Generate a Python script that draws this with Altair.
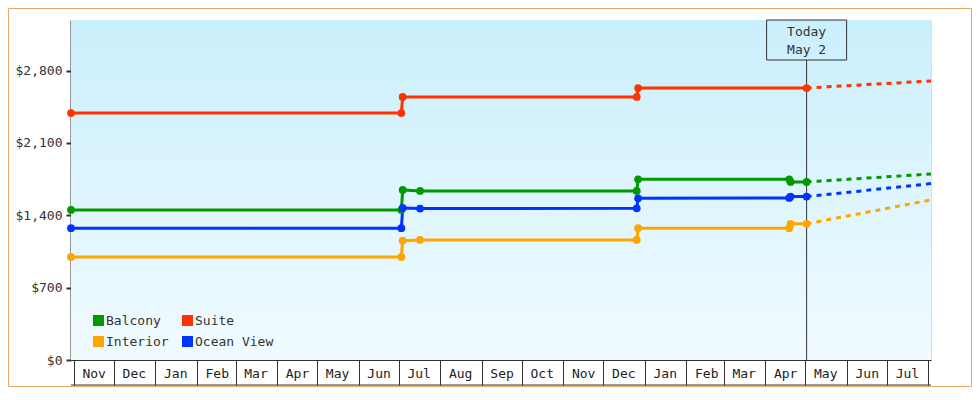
import altair as alt
import pandas as pd

# ---------------- data ----------------
series_names = ["Balcony", "Suite", "Interior", "Ocean View"]
series_colors = ["#009900", "#ff3300", "#ffa500", "#0033ff"]

dates_suite = ["2023-10-30", "2024-07-03", "2024-07-04", "2024-12-26", "2024-12-27", "2025-05-02"]
prices_suite = [2390, 2390, 2545, 2545, 2632, 2632]

dates_other = ["2023-10-30", "2024-07-03", "2024-07-04", "2024-07-17", "2024-12-26",
               "2024-12-27", "2025-04-19", "2025-04-20", "2025-05-02"]
prices_balcony = [1452, 1452, 1646, 1636, 1636, 1749, 1749, 1723, 1723]
prices_ocean = [1275, 1275, 1471, 1465, 1468, 1565, 1568, 1581, 1581]
prices_interior = [997, 997, 1155, 1162, 1162, 1275, 1275, 1318, 1318]

forecast_dates = ["2025-05-02", "2025-08-03"]
forecast_suite = [2632, 2700]
forecast_balcony = [1723, 1800]
forecast_ocean = [1581, 1707]
forecast_interior = [1318, 1549]

today_date = "2025-05-02"
today_label = ["Today", "May 2"]

y_ticks = [0, 700, 1400, 2100, 2800]
y_max = 3290
x_start = (2023, 10, 30)
x_end = (2025, 8, 3)
tick_months = [(2023, m) for m in (11, 12)] + [(2024, m) for m in range(1, 13)] + [(2025, m) for m in range(1, 9)]

# ---------------- tables ----------------
def long(name, dates, prices):
    return pd.DataFrame({"series": name, "date": dates, "price": prices})

actual = pd.concat([
    long("Suite", dates_suite, prices_suite),
    long("Balcony", dates_other, prices_balcony),
    long("Ocean View", dates_other, prices_ocean),
    long("Interior", dates_other, prices_interior),
], ignore_index=True)

forecast = pd.concat([
    long("Suite", forecast_dates, forecast_suite),
    long("Balcony", forecast_dates, forecast_balcony),
    long("Ocean View", forecast_dates, forecast_ocean),
    long("Interior", forecast_dates, forecast_interior),
], ignore_index=True)

today_df = pd.DataFrame({"date": [today_date]})
span_df = pd.DataFrame({"date": [dates_suite[0]], "date2": [forecast_dates[-1]]})

FONT = "DejaVu Sans Mono"
INK = "#333333"
W, H = 860, 340

x_scale = alt.Scale(
    type="utc",
    domain=[alt.DateTime(year=x_start[0], month=x_start[1], date=x_start[2], utc=True),
            alt.DateTime(year=x_end[0], month=x_end[1], date=x_end[2], utc=True)],
)
x_axis = alt.Axis(
    title=None,
    values=[alt.DateTime(year=y_, month=m, date=1, utc=True) for (y_, m) in tick_months],
    labelExpr="datum.value > utc(2025, 6, 15) ? '' : utcFormat(datum.value, '%b')",
    grid=False,
    tickSize=25, tickWidth=1, tickColor=INK,
    domainColor=INK, domainWidth=1,
    labelOffset=20, labelAlign="center", labelBaseline="middle", labelPadding=-12,
    labelFont=FONT, labelFontSize=13, labelColor="#222222",
    labelOverlap=False, labelFlush=False,
)
x_enc = alt.X("date:T", scale=x_scale, axis=x_axis)

y_scale = alt.Scale(domain=[0, y_max], nice=False, zero=True)
y_axis = alt.Axis(
    title=None, values=y_ticks, format="$,.0f", grid=False,
    tickSize=5, tickWidth=2, tickColor=INK,
    domainColor=INK, domainWidth=2,
    labelPadding=4, labelFont=FONT, labelFontSize=13, labelColor=INK,
)
y_enc = alt.Y("price:Q", scale=y_scale, axis=y_axis)

color_enc = alt.Color(
    "series:N",
    scale=alt.Scale(domain=series_names, range=series_colors),
    legend=alt.Legend(
        title=None, orient="none", legendX=21, legendY=294, columns=2,
        direction="horizontal",
        columnPadding=4, rowPadding=-9, padding=0,
        symbolType="square", symbolSize=25, symbolStrokeWidth=6, symbolOpacity=1,
        labelFont=FONT, labelFontSize=13, labelColor=INK, labelOffset=1,
    ),
)

bg = alt.Chart(pd.DataFrame({"a": [0]})).mark_rect(
    fill=alt.Gradient(
        gradient="linear",
        stops=[alt.GradientStop(offset=0, color="#caeffc"),
               alt.GradientStop(offset=1, color="#f1fbff")],
        x1=0, x2=0, y1=0, y2=1,
    )
).encode(x=alt.value(0), x2=alt.value(W), y=alt.value(0), y2=alt.value(H))

today_rule = alt.Chart(today_df).mark_rule(color=INK, strokeWidth=1).encode(
    x=x_enc, y=alt.value(40), y2=alt.value(H)
)

solid = alt.Chart(actual).mark_line(strokeWidth=3).encode(
    x=x_enc, y=y_enc, color=color_enc, detail="series:N"
)
dashed = alt.Chart(forecast).mark_line(strokeWidth=3, strokeDash=[5, 5]).encode(
    x=x_enc, y=y_enc, color=color_enc, detail="series:N"
)
points = alt.Chart(actual).mark_point(filled=True, size=60, opacity=1, shape="circle").encode(
    x=x_enc, y=y_enc, color=color_enc
)

box = alt.Chart(today_df).mark_point(
    shape="M-1,-0.5L1,-0.5L1,0.5L-1,0.5Z", size=6400, filled=False,
    stroke=INK, strokeWidth=1, opacity=1,
).encode(x=x_enc, y=alt.value(20))

box_text = alt.Chart(today_df).mark_text(
    font=FONT, fontSize=13, color=INK, baseline="middle", align="center", lineHeight=18,
).encode(x=x_enc, y=alt.value(12), text=alt.value(today_label))

bottom_line = alt.Chart(span_df).mark_rule(color=INK, strokeWidth=1).encode(
    x=x_enc, x2="date2:T", y=alt.value(H + 25)
)

frame = alt.Chart(pd.DataFrame({"a": [0]})).mark_rect(
    fill="transparent", stroke="#e8a868", strokeWidth=1
).encode(x=alt.value(-62.5), x2=alt.value(W + 40.5), y=alt.value(-11.5), y2=alt.value(H + 26.5))

chart = alt.layer(
    bg, today_rule, solid, dashed, points, box, box_text, bottom_line, frame
).properties(
    width=W, height=H,
    autosize=alt.AutoSizeParams(type="none"),
    padding={"left": 63, "top": 12, "right": 41, "bottom": 27},
).configure_view(stroke=None).configure(background="white", font=FONT)

chart.save("out.html", embed_options={"renderer": "svg", "actions": False})
